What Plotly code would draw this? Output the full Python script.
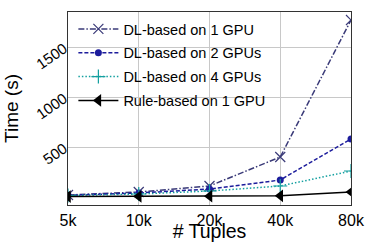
import plotly.graph_objects as go

categories = ["5k", "10k", "20k", "40k", "80k"]
dl_1gpu = [20, 50, 110, 400, 1770]
dl_2gpu = [18, 40, 80, 170, 580]
dl_4gpu = [15, 30, 60, 110, 260]
rule_1gpu = [4, 6, 8, 12, 50]
y_ticks = [500, 1000, 1500]

fig = go.Figure()
fig.add_trace(go.Scatter(x=categories, y=dl_1gpu, name="DL-based on 1 GPU", mode="lines+markers",
                         legendgroup="a",
                         line=dict(color="#3a3a78", dash="6px,2px,1.5px,2px", width=1.5),
                         marker=dict(symbol="x-thin", size=10, line=dict(color="#3a3a78", width=1.2))))
fig.add_trace(go.Scatter(x=categories, y=dl_2gpu, name="DL-based on 2 GPUs", mode="lines+markers",
                         legendgroup="b",
                         line=dict(color="#1c1c9c", dash="4px,2px", width=1.5),
                         marker=dict(symbol="circle", size=7, color="#1c1c9c")))
fig.add_trace(go.Scatter(x=categories, y=dl_4gpu, name="DL-based on 4 GPUs", mode="lines+markers",
                         legendgroup="c",
                         line=dict(color="#14a0a0", dash="1.5px,2px", width=1.5),
                         marker=dict(symbol="cross-thin", size=10, line=dict(color="#14a0a0", width=1.2))))
fig.add_trace(go.Scatter(x=categories, y=rule_1gpu, name="Rule-based on 1 GPU", mode="lines+markers",
                         legendgroup="d",
                         line=dict(color="black", width=1.5),
                         marker=dict(symbol="triangle-left", size=11, color="black")))

fig.update_layout(
    width=382, height=242,
    margin=dict(l=68, r=31, t=12, b=37, autoexpand=False),
    paper_bgcolor="white", plot_bgcolor="white",
    font=dict(family="Liberation Sans, Arial, sans-serif", color="black", size=15),
    legend=dict(x=0.019, y=0.995, xanchor="left", yanchor="top", bgcolor="rgba(0,0,0,0)",
                font=dict(size=14.5), traceorder="grouped", tracegroupgap=2, itemwidth=40),
    showlegend=True,
)
fig.update_xaxes(type="category", range=[0, 4], showgrid=True, gridcolor="#c8c8c8",
                 showline=True, linecolor="#333", mirror=True, ticks="outside", ticklen=1,
                 tickcolor="rgba(0,0,0,0)", automargin=False, tickangle=0,
                 tickfont=dict(size=16),
                 title=dict(text="# Tuples", font=dict(size=19.5), standoff=6))
fig.update_yaxes(range=[-80, 1850], tickvals=y_ticks, showgrid=True, gridcolor="#c8c8c8",
                 showline=True, linecolor="#333", mirror=True, ticks="",
                 automargin=False,
                 tickangle=-35, tickfont=dict(size=15), zeroline=False,
                 title=dict(text="Time (s)", font=dict(size=19), standoff=9))

fig.write_html("out.html", config={"displayModeBar": False},
               post_script="document.body.style.margin='0';")
